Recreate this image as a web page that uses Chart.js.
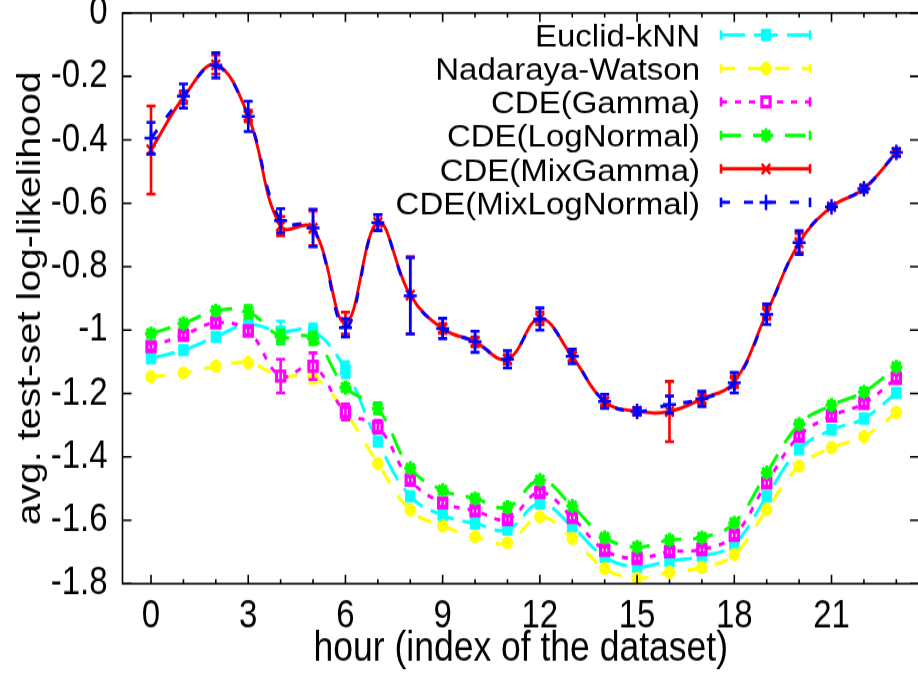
<!DOCTYPE html>
<html>
<head>
<meta charset="utf-8">
<script src="https://cdn.jsdelivr.net/npm/chart.js@4.4.1/dist/chart.umd.min.js"></script>
<style>
  html, body { margin: 0; padding: 0; width: 918px; height: 675px; overflow: hidden; background: #fff; }
  /* the figure is laid out on a 567px-high canvas and shown with a vertical stretch */
  #wrap { position: absolute; left: 0; top: 0; width: 930px; height: 567px;
          transform-origin: 0 0; transform: scale(1, 1.1905); }
</style>
</head>
<body>
<div id="wrap"><canvas id="chart" width="930" height="567"></canvas></div>
<script>
// hour index of each dataset
const hours = [0,1,2,3,4,5,6,7,8,9,10,11,12,13,14,15,16,17,18,19,20,21,22,23];
const xTicks = [0,3,6,9,12,15,18,21];
const yTicks = [0,-0.2,-0.4,-0.6,-0.8,-1,-1.2,-1.4,-1.6,-1.8];

// average test-set log-likelihood per method, with error half-widths
const euclidKnn    = [-1.089,-1.063,-1.021,-0.982,-1.005,-1.003,-1.125,-1.352,-1.524,-1.584,-1.610,-1.629,-1.547,-1.620,-1.715,-1.747,-1.728,-1.713,-1.675,-1.524,-1.376,-1.315,-1.279,-1.198];
const euclidKnnErr = [0.008,0.008,0.008,0.01,0.033,0.022,0.025,0.012,0.008,0.008,0.008,0.008,0.008,0.008,0.008,0.008,0.008,0.008,0.008,0.008,0.008,0.008,0.008,0.008];

const nadarayaWatson    = [-1.147,-1.135,-1.114,-1.103,-1.145,-1.147,-1.260,-1.421,-1.568,-1.618,-1.652,-1.671,-1.589,-1.657,-1.752,-1.783,-1.764,-1.749,-1.708,-1.566,-1.429,-1.371,-1.336,-1.260];
const nadarayaWatsonErr = [0.008,0.008,0.008,0.008,0.01,0.02,0.01,0.01,0.008,0.008,0.008,0.008,0.008,0.008,0.008,0.006,0.008,0.008,0.008,0.008,0.008,0.008,0.008,0.008];

const cdeGamma    = [-1.052,-1.016,-0.977,-1.003,-1.145,-1.114,-1.258,-1.305,-1.473,-1.545,-1.570,-1.597,-1.512,-1.591,-1.694,-1.720,-1.699,-1.692,-1.647,-1.482,-1.334,-1.271,-1.231,-1.152];
const cdeGammaErr = [0.01,0.01,0.01,0.01,0.053,0.042,0.025,0.02,0.01,0.01,0.01,0.01,0.01,0.01,0.01,0.01,0.01,0.01,0.01,0.01,0.01,0.01,0.01,0.01];

const cdeLogNormal    = [-1.011,-0.979,-0.939,-0.942,-1.021,-1.026,-1.181,-1.247,-1.436,-1.505,-1.531,-1.559,-1.473,-1.555,-1.654,-1.684,-1.662,-1.654,-1.608,-1.450,-1.297,-1.237,-1.195,-1.116];
const cdeLogNormalErr = [0.01,0.01,0.01,0.02,0.022,0.02,0.012,0.018,0.01,0.01,0.01,0.01,0.01,0.01,0.01,0.01,0.01,0.01,0.01,0.01,0.01,0.01,0.01,0.01];

const cdeMixGamma    = [-0.432,-0.266,-0.163,-0.325,-0.672,-0.679,-0.978,-0.661,-0.890,-0.995,-1.037,-1.092,-0.963,-1.084,-1.226,-1.256,-1.257,-1.217,-1.163,-0.946,-0.725,-0.611,-0.554,-0.440];
const cdeMixGammaErr = [0.139,0.02,0.03,0.018,0.03,0.055,0.034,0.025,0.122,0.015,0.015,0.015,0.02,0.015,0.012,0.01,0.095,0.015,0.018,0.02,0.03,0.006,0.008,0.01];

const cdeMixLogNormal    = [-0.395,-0.262,-0.165,-0.326,-0.655,-0.678,-0.993,-0.661,-0.892,-0.995,-1.037,-1.092,-0.965,-1.083,-1.225,-1.256,-1.235,-1.217,-1.166,-0.950,-0.724,-0.611,-0.554,-0.440];
const cdeMixLogNormalErr = [0.05,0.038,0.04,0.048,0.038,0.059,0.028,0.025,0.12,0.032,0.033,0.027,0.035,0.023,0.022,0.011,0.027,0.024,0.032,0.032,0.037,0.008,0.01,0.012];

const FONT = "'Liberation Sans', Arial, Helvetica, sans-serif";

const series = [
  { label: 'Euclid-kNN',         values: euclidKnn,       err: euclidKnnErr,       color: '#00ffff', dash: [24, 9],  point: 'rect',     radius: 6.6, fill: '#00ffff', pw: 1 },
  { label: 'Nadaraya-Watson',    values: nadarayaWatson,  err: nadarayaWatsonErr,  color: '#ffff00', dash: [14, 13], point: 'circle',   radius: 5.2, fill: '#ffff00', pw: 1 },
  { label: 'CDE(Gamma)',         values: cdeGamma,        err: cdeGammaErr,        color: '#ff00ff', dash: [6, 8],   point: 'rect',     radius: 5.8, fill: '#ffffff', pw: 3.2 },
  { label: 'CDE(LogNormal)',     values: cdeLogNormal,    err: cdeLogNormalErr,    color: '#00ff00', dash: [20, 12], point: 'star',     radius: 6,   fill: '#00ff00', pw: 3 },
  { label: 'CDE(MixGamma)',      values: cdeMixGamma,     err: cdeMixGammaErr,     color: '#ff0000', dash: [],       point: 'crossRot', radius: 6,   fill: '#ff0000', pw: 2.5 },
  { label: 'CDE(MixLogNormal)',  values: cdeMixLogNormal, err: cdeMixLogNormalErr, color: '#0000ff', dash: [9, 14],  point: 'cross',    radius: 6.5, fill: '#0000ff', pw: 2.5 }
];

const datasets = series.map((s, i) => ({
  label: s.label,
  data: hours.map((h, j) => ({ x: h, y: s.values[j] })),
  borderColor: s.color,
  backgroundColor: s.fill,
  borderWidth: 2.9,
  borderDash: s.dash,
  tension: 0.4,
  pointStyle: s.point,
  pointRadius: s.radius,
  pointBorderWidth: s.pw,
  pointBorderColor: s.color,
  pointBackgroundColor: s.fill,
  order: series.length - i
}));

function drawMarker(ctx, s, x, y) {
  const opts = { pointStyle: s.point, radius: s.radius, borderWidth: s.pw, rotation: 0 };
  ctx.save();
  ctx.setLineDash([]);
  ctx.strokeStyle = s.color;
  ctx.fillStyle = s.fill;
  ctx.lineWidth = s.pw;
  Chart.helpers.drawPoint(ctx, opts, x, y);
  ctx.restore();
}

// vertical error bars with caps, drawn together with their own series
const errorBars = {
  id: 'errorBars',
  afterDatasetDraw(chart, args) {
    const s = series[args.index];
    const ctx = chart.ctx, ys = chart.scales.y;
    ctx.save();
    ctx.setLineDash([]);
    ctx.strokeStyle = s.color;
    ctx.lineWidth = 2.6;
    args.meta.data.forEach((pt, j) => {
      const v = s.values[j], e = s.err[j];
      const y1 = ys.getPixelForValue(v + e), y2 = ys.getPixelForValue(v - e);
      const x = pt.x;
      ctx.beginPath();
      ctx.moveTo(x, y1); ctx.lineTo(x, y2);
      ctx.moveTo(x - 4.5, y1); ctx.lineTo(x + 4.5, y1);
      ctx.moveTo(x - 4.5, y2); ctx.lineTo(x + 4.5, y2);
      ctx.stroke();
    });
    ctx.restore();
  }
};

// plot border with inward tick marks on all four sides
const frame = {
  id: 'frame',
  afterDraw(chart) {
    const { ctx, chartArea: a, scales: { x, y } } = chart;
    ctx.save();
    ctx.setLineDash([]);
    ctx.strokeStyle = '#000';
    ctx.lineWidth = 1.6;
    ctx.strokeRect(a.left, a.top, a.right - a.left, a.bottom - a.top);
    ctx.beginPath();
    hours.forEach(h => {
      const px = x.getPixelForValue(h);
      const len = xTicks.includes(h) ? 7.6 : 3.8;
      ctx.moveTo(px, a.bottom); ctx.lineTo(px, a.bottom - len);
      ctx.moveTo(px, a.top); ctx.lineTo(px, a.top + len);
    });
    yTicks.forEach(v => {
      const py = y.getPixelForValue(v);
      ctx.moveTo(a.left, py); ctx.lineTo(a.left + 9, py);
      ctx.moveTo(a.right, py); ctx.lineTo(a.right - 9, py);
    });
    ctx.stroke();
    ctx.restore();
  }
};

// key: label right-aligned, then a line sample with caps and the marker
const key = {
  id: 'key',
  afterDraw(chart) {
    const ctx = chart.ctx;
    const x0 = 721, x1 = 810, xm = 766, textRight = 700;
    ctx.save();
    series.forEach((s, i) => {
      const yRow = 29.4 + i * 28.1;
      ctx.save();
      ctx.translate(textRight, yRow + 9.7);
      ctx.scale(1, 0.8);
      ctx.font = '33px ' + FONT;
      ctx.textAlign = 'right';
      ctx.textBaseline = 'alphabetic';
      ctx.fillStyle = '#000';
      ctx.fillText(s.label, 0, 0);
      ctx.restore();
      ctx.strokeStyle = s.color;
      ctx.lineWidth = 2.9;
      ctx.setLineDash(s.dash);
      ctx.beginPath(); ctx.moveTo(x0, yRow); ctx.lineTo(x1, yRow); ctx.stroke();
      ctx.setLineDash([]);
      ctx.lineWidth = 2.6;
      ctx.beginPath();
      ctx.moveTo(x0, yRow - 4); ctx.lineTo(x0, yRow + 4);
      ctx.moveTo(x1, yRow - 4); ctx.lineTo(x1, yRow + 4);
      ctx.stroke();
      drawMarker(ctx, s, xm, yRow);
    });
    ctx.restore();
  }
};

new Chart(document.getElementById('chart'), {
  type: 'line',
  data: { datasets },
  plugins: [errorBars, frame, key],
  options: {
    responsive: false,
    devicePixelRatio: 1,
    animation: false,
    events: [],
    layout: { padding: { top: 10.9, right: 11, bottom: 0, left: 0 } },
    plugins: { legend: { display: false }, tooltip: { enabled: false } },
    scales: {
      x: {
        type: 'linear', min: -0.88, max: 23.7,
        afterBuildTicks: sc => { sc.ticks = xTicks.map(v => ({ value: v })); },
        afterFit: sc => { sc.height = 76.7; sc.paddingLeft = 0; sc.paddingRight = 0; },
        grid: { display: false, drawTicks: false },
        border: { display: false },
        ticks: { color: '#000', font: { family: FONT, size: 33 }, padding: 8, maxRotation: 0, autoSkip: false,
                 callback: v => String(v) },
        title: { display: true, text: 'hour (index of the dataset)', color: '#000',
                 font: { family: FONT, size: 35.5 }, padding: { top: 0, bottom: 0.5 } }
      },
      y: {
        type: 'linear', min: -1.8, max: 0,
        afterBuildTicks: sc => { sc.ticks = yTicks.map(v => ({ value: v })); },
        afterFit: sc => { sc.width = 122.5; sc.paddingTop = 0; sc.paddingBottom = 0; },
        grid: { display: false, drawTicks: false },
        border: { display: false },
        ticks: { color: '#000', font: { family: FONT, size: 33 }, padding: 15,
                 callback: v => { const r = Math.round(v * 10) / 10; return r === 0 ? '0' : String(r); } },
        title: { display: true, text: 'avg. test-set log-likelihood', color: '#000',
                 font: { family: FONT, size: 33 }, padding: { top: 11, bottom: 0 } }
      }
    }
  }
});
</script>
</body>
</html>
